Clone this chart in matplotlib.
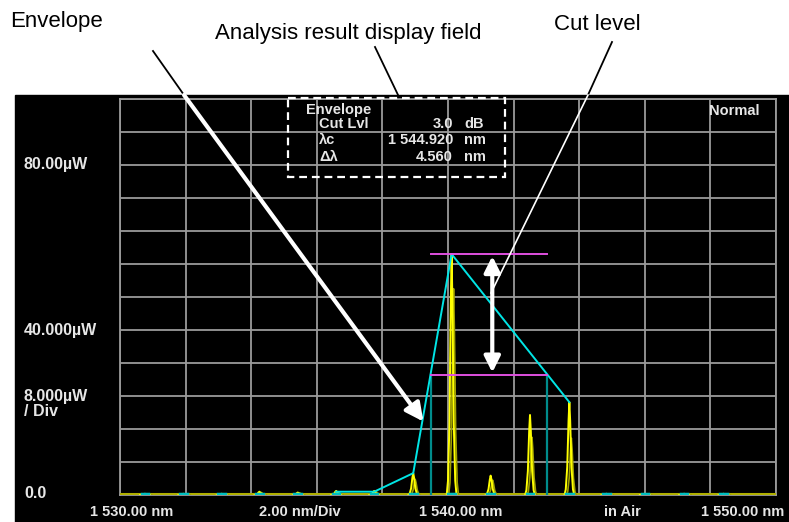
import numpy as np
import matplotlib
matplotlib.use("Agg")
import matplotlib.pyplot as plt
from matplotlib.patches import Rectangle

plt.rcParams['font.family'] = ['Liberation Sans', 'DejaVu Sans']

# axis ranges: wavelength (nm) and power (uW)
x_min, x_max = 1530.0, 1550.0
y_min, y_max = 0.0, 96.0

# measured peaks (bright trace) and the dimmer second trace
peak_wl = [1530.76, 1531.93, 1533.10, 1534.25, 1535.42, 1536.59, 1537.75,
           1538.94, 1540.11, 1541.30, 1542.50, 1543.70,
           1544.83, 1546.00, 1547.20, 1548.40]
peak_pw = [0.3, 0.3, 0.3, 0.8, 0.6, 1.0, 1.0,
           5.3, 58.4, 4.7, 19.4, 22.5,
           0.3, 0.3, 0.3, 0.3]
dim_pw = [0.3, 0.3, 0.3, 0.6, 0.5, 0.8, 0.8,
          3.8, 50.0, 3.6, 14.0, 13.8,
          0.3, 0.3, 0.3, 0.3]

# envelope polyline
env_wl = [1536.59, 1537.75, 1538.94, 1540.11, 1543.70]
env_pw = [0.8, 0.8, 5.3, 58.4, 22.5]

# cut level
peak_level = 58.4
cut_level = 29.2
cut_wl = [1539.47, 1543.03]

# analysis result text
res_names = ["Cut Lvl", "\u03bbc", "\u0394\u03bb"]
res_values = ["3.0", "1 544.920", "4.560"]
res_units = ["dB", "nm", "nm"]

W, H = 789, 522
fig = plt.figure(figsize=(W / 100, H / 100), dpi=100)
fig.patch.set_facecolor('white')

# background layer in pixel coordinates
bg = fig.add_axes([0, 0, 1, 1], zorder=0)
bg.set_xlim(0, W)
bg.set_ylim(H, 0)
bg.axis('off')
bg.add_patch(Rectangle((15, 95), W - 15, H - 95, color='black'))

# plot area: 120..776 px horizontally, 99..495 px vertically
L, R, T, B = 120, 776, 99, 495
ax = fig.add_axes([L / W, (H - B) / H, (R - L) / W, (B - T) / H], zorder=1)
ax.set_facecolor('black')
ax.set_xlim(x_min, x_max)
ax.set_ylim(y_min, y_max)
ax.set_xticks(np.linspace(x_min, x_max, 11))
ax.set_yticks(np.arange(0, 97, 8))
ax.tick_params(length=0, labelbottom=False, labelleft=False)
ax.grid(True, color='#9a9a9a', lw=1.3)
for s in ax.spines.values():
    s.set_color('#9a9a9a')
    s.set_linewidth(1.3)

# peak shape (relative offsets in nm, fraction of height)
prof_dx = np.array([-0.15, -0.11, -0.065, -0.025, 0.0, 0.025, 0.065, 0.11, 0.15])
prof_f = np.array([0.0, 0.06, 0.3, 0.8, 1.0, 0.8, 0.3, 0.06, 0.0])

ax.axhline(0.25, color='#b0b000', lw=2.2, zorder=3)
for wl, pw, dp in zip(peak_wl, peak_pw, dim_pw):
    ax.plot(wl + 0.06 + prof_dx, dp * prof_f, color='#a0a000', lw=1.2, zorder=3)
    ax.plot(wl + prof_dx, pw * prof_f, color='#ffff00', lw=1.4, zorder=4)
    ax.plot([wl - 0.1, wl + 0.1], [0.3, 0.3], color='#00c0c0', lw=2.5, zorder=5)

# envelope and cut level
ax.plot(env_wl, env_pw, color='#00e5e5', lw=1.4, zorder=6)
for wl in cut_wl:
    ax.plot([wl, wl], [0, cut_level], color='#008c8c', lw=1.6, zorder=5)
ax.plot(cut_wl, [peak_level, peak_level], color='#e050e0', lw=1.4, zorder=6)
ax.plot(cut_wl, [cut_level, cut_level], color='#e050e0', lw=1.4, zorder=6)

# overlay in pixel coordinates for labels and callouts
ov = fig.add_axes([0, 0, 1, 1], zorder=3)
ov.set_xlim(0, W)
ov.set_ylim(H, 0)
ov.axis('off')


def px(wl, pw):
    return (L + (wl - x_min) / (x_max - x_min) * (R - L),
            B - (pw - y_min) / (y_max - y_min) * (B - T))


lab = dict(color='#e6e6e6', fontsize=10.5, fontweight='bold')
side = dict(lab, fontsize=11.5)
ov.text(24, 165, "80.00\u00b5W", ha='left', va='center', **side)
ov.text(24, 330, "40.000\u00b5W", ha='left', va='center', **side)
ov.text(24, 397, "8.000\u00b5W", ha='left', va='center', **side)
ov.text(24, 411, "/ Div", ha='left', va='center', **side)
ov.text(24, 494, "0.0", ha='left', va='center', **side)
ov.text(132, 512, "1 530.00 nm", ha='center', va='center', **lab)
ov.text(300, 512, "2.00 nm/Div", ha='center', va='center', **lab)
ov.text(461, 512, "1 540.00 nm", ha='center', va='center', **lab)
ov.text(622, 512, "in Air", ha='center', va='center', **lab)
ov.text(784, 512, "1 550.00 nm", ha='right', va='center', **lab)
ov.text(734, 111, "Normal", ha='center', va='center', **lab)

# analysis result field
ov.add_patch(Rectangle((288, 98), 217, 79, fill=False, ec='white', lw=1.6,
                       ls=(0, (3.5, 2.2))))
ov.text(306, 110, "Envelope", ha='left', va='center', **lab)
for i, (n, v, u) in enumerate(zip(res_names, res_values, res_units)):
    yy = 124 + i * 16.5
    ov.text(319, yy, n, ha='left', va='center', **lab)
    ov.text(453, yy, v, ha='right', va='center', **lab)
    ov.text(464, yy, u, ha='left', va='center', **lab)

# callout labels
ov.text(10, 22, "Envelope", ha='left', va='center', fontsize=16, color='black')
ov.text(348, 33, "Analysis result display field", ha='center', va='center',
        fontsize=16, color='black')
ov.text(597, 25, "Cut level", ha='center', va='center', fontsize=16, color='black')

# envelope arrow
ov.plot([153, 184], [51, 95], color='black', lw=1.3)
tip = px(1539.25, 17.8)
ov.annotate("", xy=tip, xytext=(184, 95),
            arrowprops=dict(arrowstyle='-|>,head_length=0.9,head_width=0.45',
                            color='white', lw=3, mutation_scale=12,
                            shrinkA=0, shrinkB=0))

# analysis field pointer
ov.plot([375, 399], [47, 97], color='black', lw=1.3)

# cut level pointer and double arrow
ov.plot([612, 588], [42, 95], color='black', lw=1.3)
ov.plot([588, 491], [95, 293], color='white', lw=1.2)
top = px(1541.35, peak_level)
bot = px(1541.35, cut_level)
ov.annotate("", xy=(top[0], top[1] + 2), xytext=(bot[0], bot[1] - 2),
            arrowprops=dict(arrowstyle='<|-|>,head_length=0.8,head_width=0.4',
                            color='white', lw=3, mutation_scale=12,
                            shrinkA=0, shrinkB=0))

fig.savefig("out.png", dpi=100, facecolor=fig.get_facecolor())
